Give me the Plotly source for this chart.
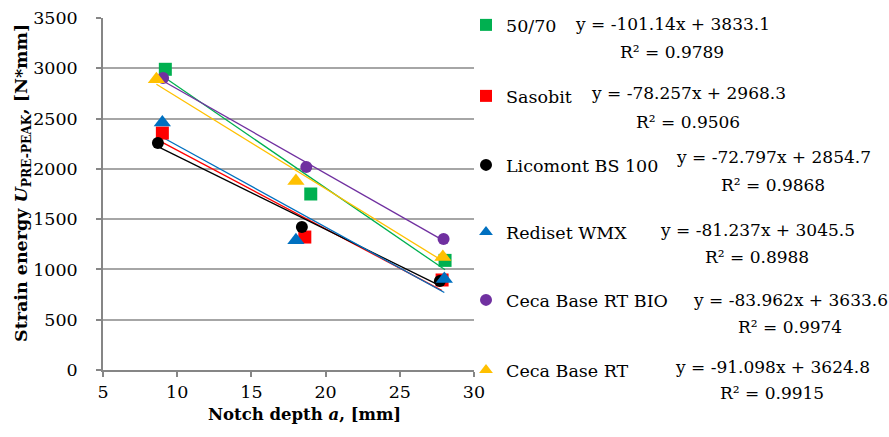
import plotly.graph_objects as go

# ---- data ----
names = ["50/70", "Sasobit", "Licomont BS 100", "Rediset WMX", "Ceca Base RT BIO", "Ceca Base RT"]
x_5070 = [9.2, 19.0, 28.05]
y_5070 = [2990, 1750, 1090]
x_sasobit = [9.0, 18.6, 27.85]
y_sasobit = [2356, 1322, 895]
x_licomont = [8.7, 18.4, 27.7]
y_licomont = [2257, 1422, 885]
x_rediset = [9.0, 18.0, 28.0]
y_rediset = [2460, 1290, 905]
x_cecabio = [9.05, 18.7, 27.95]
y_cecabio = [2903, 2018, 1302]
x_ceca = [8.6, 18.0, 27.9]
y_ceca = [2890, 1879, 1124]

slopes = [-101.14, -78.257, -72.797, -81.237, -83.962, -91.098]
intercepts = [3833.1, 2968.3, 2854.7, 3045.5, 3633.6, 3624.8]
r2_values = ["0.9789", "0.9506", "0.9868", "0.8988", "0.9974", "0.9915"]

colors = ["#00B050", "#FF0000", "#000000", "#0070C0", "#7030A0", "#FFC000"]
symbols = ["square", "square", "circle", "triangle-up", "circle", "triangle-up"]
sizes = [13, 13, 12, 15, 12, 15]

xs = [x_5070, x_sasobit, x_licomont, x_rediset, x_cecabio, x_ceca]
ys = [y_5070, y_sasobit, y_licomont, y_rediset, y_cecabio, y_ceca]

# ---- layout geometry (pixels) ----
W, H = 889, 437
L, R, T, B = 103, 474, 18, 370
PW, PH = R - L, B - T


def px(x):
    return (x - L) / PW


def py(y):
    return (B - y) / PH


FONT = "DejaVu Serif"

fig = go.Figure()

# trendlines
for i in range(6):
    x0, x1 = min(xs[i]), max(xs[i])
    fig.add_trace(go.Scatter(
        x=[x0, x1], y=[slopes[i] * x0 + intercepts[i], slopes[i] * x1 + intercepts[i]],
        mode="lines", line=dict(color=colors[i], width=1.3),
        showlegend=False, hoverinfo="skip"))

# points, each in its own legend box
legend_y = [25, 96, 165, 232, 300, 370]
legend_layouts = {}
for i in range(6):
    lg = "legend" if i == 0 else f"legend{i + 1}"
    fig.add_trace(go.Scatter(
        x=xs[i], y=ys[i], mode="markers", name=names[i], legend=lg,
        marker=dict(color=colors[i], symbol=symbols[i], size=sizes[i], line=dict(width=0))))
    legend_layouts[lg] = dict(
        x=px(466), y=py(legend_y[i]), xanchor="left", yanchor="middle",
        font=dict(family=FONT, size=17.5, color="#000"),
        itemsizing="constant", itemwidth=30, bgcolor="rgba(0,0,0,0)", borderwidth=0)

# equations
eq_pos = [(672, 24, 52), (688, 93, 122), (773, 157, 185), (757, 230, 257), (790, 300, 327), (772, 367, 393)]
for i in range(6):
    cx, ey, ry = eq_pos[i]
    sign = "+" if intercepts[i] >= 0 else "-"
    fig.add_annotation(x=px(cx), y=py(ey), xref="paper", yref="paper", xanchor="center", yanchor="middle",
                       text=f"y = {slopes[i]}x {sign} {abs(intercepts[i])}", showarrow=False,
                       font=dict(family=FONT, size=17, color="#000"))
    fig.add_annotation(x=px(cx), y=py(ry), xref="paper", yref="paper", xanchor="center", yanchor="middle",
                       text=f"R² = {r2_values[i]}", showarrow=False,
                       font=dict(family=FONT, size=17, color="#000"))

# axis titles
fig.add_annotation(x=px(304), y=py(414), xref="paper", yref="paper", xanchor="center", yanchor="middle",
                   text="<b>Notch depth <i>a</i>, [mm]</b>", showarrow=False,
                   font=dict(family=FONT, size=16.5, color="#000"))
fig.add_annotation(x=px(22), y=py(183), xref="paper", yref="paper", xanchor="center", yanchor="middle",
                   text="<b>Strain energy <i>U</i><sub>PRE-PEAK</sub>, [N*mm]</b>", showarrow=False,
                   textangle=-90, font=dict(family=FONT, size=17.5, color="#000"))

fig.update_layout(
    width=W, height=H,
    margin=dict(l=L, r=W - R, t=T, b=H - B, pad=0, autoexpand=False),
    paper_bgcolor="white", plot_bgcolor="white",
    font=dict(family=FONT, size=17, color="#000"),
    showlegend=True,
    **legend_layouts,
    xaxis=dict(range=[5, 30], dtick=5, tick0=5, showgrid=False, zeroline=False,
               showline=True, linecolor="#868686", linewidth=1.5,
               ticks="outside", ticklen=5, tickcolor="#868686", tickwidth=1.5,
               tickfont=dict(family=FONT, size=17.5, color="#000")),
    yaxis=dict(range=[0, 3500], dtick=500, showgrid=True, gridcolor="#A6A6A6", gridwidth=1.5,
               zeroline=False, showline=True, linecolor="#868686", linewidth=1.5,
               ticks="outside", ticklen=5, tickcolor="#868686", tickwidth=1.5,
               ticklabelstandoff=15,
               tickfont=dict(family=FONT, size=17.5, color="#000")),
)

fig.write_html("out.html")
